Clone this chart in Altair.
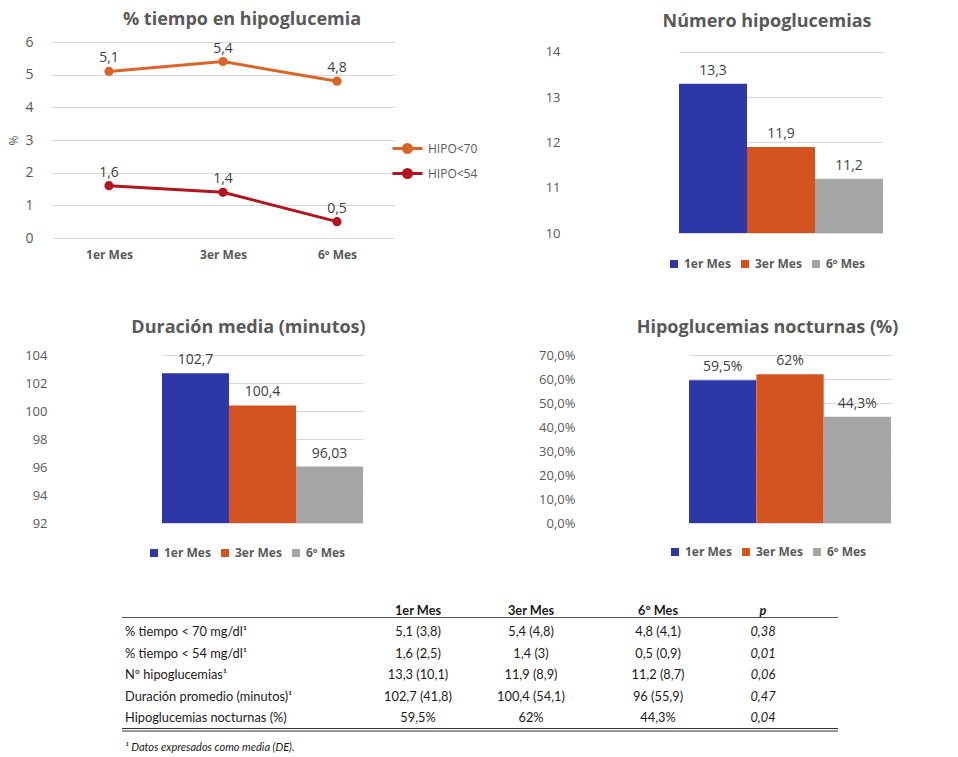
import altair as alt
import pandas as pd

# ---------------- data ----------------
meses = ["1er Mes", "3er Mes", "6º Mes"]
series = ["HIPO<70", "HIPO<54"]
hipo70 = [5.1, 5.4, 4.8]
hipo54 = [1.6, 1.4, 0.5]
num_hipo = [13.3, 11.9, 11.2]
duracion = [102.7, 100.4, 96.03]
nocturnas = [59.5, 62.0, 44.3]

tabla_cab = ["1er Mes", "3er Mes", "6º Mes", "p"]
tabla_filas = ["% tiempo < 70 mg/dl¹", "% tiempo < 54 mg/dl¹", "Nº hipoglucemias¹",
               "Duración promedio (minutos)¹", "Hipoglucemias nocturnas (%)"]
tabla_1er = ["5,1 (3,8)", "1,6 (2,5)", "13,3 (10,1)", "102,7 (41,8)", "59,5%"]
tabla_3er = ["5,4 (4,8)", "1,4 (3)", "11,9 (8,9)", "100,4 (54,1)", "62%"]
tabla_6o = ["4,8 (4,1)", "0,5 (0,9)", "11,2 (8,7)", "96 (55,9)", "44,3%"]
tabla_p = ["0,38", "0,01", "0,06", "0,47", "0,04"]
nota = "¹ Datos expresados como media (DE)."

# ---------------- style ----------------
BLUE, ORANGE, GRAY = "#2E37A8", "#D35420", "#A5A5A5"
C70, C54 = "#D9652B", "#B1161F"
TXT, LBL, GRID = "#595959", "#404040", "#D9D9D9"
FONT, TFONT = "Open Sans", "Lato"
TSIZE = 12.8


def coma(v):
    return f"{v:g}".replace(".", ",")


def titulo(text, dx, offset):
    return alt.TitleParams(text=text, fontSize=18, fontWeight="bold", color=TXT, font=FONT,
                           anchor="middle", frame="group", dx=dx, offset=offset,
                           baseline="alphabetic")


def marco(left, top, right, bottom):
    """Invisible layout frame (sets the extent of a row of the figure)."""
    return alt.Chart(pd.DataFrame({"m": [0]})).mark_rect(opacity=0).encode(
        x=alt.value(left), x2=alt.value(right), y=alt.value(top), y2=alt.value(bottom))


# ---------------- panel 1: lines ----------------
df1 = pd.DataFrame({"mes": meses + meses,
                    "serie": [series[0]] * 3 + [series[1]] * 3,
                    "valor": hipo70 + hipo54})
df1["etiqueta"] = [coma(v) for v in df1["valor"]]

cs1 = alt.Scale(domain=series, range=[C70, C54])
x1 = alt.X("mes:N", sort=meses, scale=alt.Scale(type="point", padding=0.5),
           axis=alt.Axis(title=None, labelAngle=0, labelFontWeight="bold", labelFontSize=12,
                         labelColor=TXT, labelPadding=11, domain=False, ticks=False, grid=False))
y1 = alt.Y("valor:Q", scale=alt.Scale(domain=[0, 6], nice=False),
           axis=alt.Axis(values=[0, 1, 2, 3, 4, 5, 6], title="%", titleFontSize=12,
                         titleFontWeight="normal", titleColor=TXT, titlePadding=4,
                         labelFontSize=14, labelColor=TXT, labelPadding=19,
                         domain=False, ticks=False, grid=True, gridColor=GRID))
SYM = ("M-1.5,0L1.5,0"
       "M-0.4,0A0.4,0.4,0,1,1,0.4,0A0.4,0.4,0,1,1,-0.4,0"
       "M-0.25,0A0.25,0.25,0,1,1,0.25,0A0.25,0.25,0,1,1,-0.25,0"
       "M-0.1,0A0.1,0.1,0,1,1,0.1,0A0.1,0.1,0,1,1,-0.1,0")
leg1 = alt.Legend(title=None, orient="none", legendX=344, legendY=95, symbolType=SYM,
                  symbolSize=400, symbolStrokeWidth=3, symbolFillColor="transparent",
                  labelOffset=9, rowPadding=3, labelFontSize=12, labelColor=TXT)
base1 = alt.Chart(df1).encode(x=x1, y=y1)
line1 = base1.mark_line(strokeWidth=3).encode(
    color=alt.Color("serie:N", sort=series, scale=cs1, legend=leg1))
pts1 = base1.mark_point(filled=True, size=85, opacity=1).encode(
    color=alt.Color("serie:N", sort=series, scale=cs1, legend=None))
txt1 = base1.mark_text(dy=-13, fontSize=14, color=LBL, font=FONT).encode(text="etiqueta:N")
p1 = alt.layer(marco(-52, -42, 0, 248), line1, pts1, txt1).properties(
    width=342, height=196, title=titulo("% tiempo en hipoglucemia", 19, -42.5))


# ---------------- bar panels ----------------
def bar_panel(values, domain, ticks, width, height, band_range, title, leg_x, leg_y,
              label_padding, frame, label_expr=None, suffix=""):
    df = pd.DataFrame({"mes": meses, "valor": values})
    df["etiqueta"] = [coma(v) + suffix for v in values]
    axis_kw = dict(values=ticks, title=None, labelFontSize=13, labelColor=TXT,
                   labelPadding=label_padding, domain=False, ticks=False, grid=True,
                   gridColor=GRID)
    if label_expr:
        axis_kw["labelExpr"] = label_expr
    x = alt.X("mes:N", sort=meses,
              scale=alt.Scale(type="band", paddingInner=0, paddingOuter=0, range=band_range),
              axis=None)
    y = alt.Y("valor:Q", scale=alt.Scale(domain=domain, nice=False, zero=False),
              axis=alt.Axis(**axis_kw))
    leg = alt.Legend(title=None, orient="none", direction="horizontal", columns=3,
                     legendX=leg_x, legendY=leg_y, symbolType="square", symbolSize=64,
                     symbolStrokeWidth=0, labelFontSize=12, labelFontWeight="bold",
                     labelColor=TXT, labelOffset=4, columnPadding=8)
    bars = alt.Chart(df).mark_bar().encode(
        x=x, y=y, y2=alt.datum(domain[0]),
        color=alt.Color("mes:N", sort=meses,
                        scale=alt.Scale(domain=meses, range=[BLUE, ORANGE, GRAY]), legend=leg))
    labels = alt.Chart(df).mark_text(baseline="alphabetic", dy=-9, fontSize=14, color=LBL,
                                     font=FONT).encode(x=x, y=y, text="etiqueta:N")
    return alt.layer(frame, bars, labels).properties(width=width, height=height, title=title)


p2 = bar_panel(num_hipo, [10, 14.22], [10, 11, 12, 13, 14], 380, 191, [102, 306],
               titulo("Número hipoglucemias", 0, -44.5), 91, 216, 17,
               frame=marco(0, -42, 1, 248))
p3 = bar_panel(duracion, [92, 104], [92, 94, 96, 98, 100, 102, 104], 413, 168, [110, 311],
               titulo("Duración media (minutos)", -10, -60.5), 96, 192, 5,
               frame=marco(-52, -65, 0, 220))
p4 = bar_panel(nocturnas, [0, 70], [0, 10, 20, 30, 40, 50, 60, 70], 369, 168, [101, 303],
               titulo("Hipoglucemias nocturnas (%)", -5, -60.5), 81, 191, 13,
               frame=marco(0, -65, 1, 220),
               label_expr="replace(format(datum.value, '.1f'), '.', ',') + '%'",
               suffix="%")

# ---------------- table ----------------
filas_idx = [1, 2, 3, 4, 5]
df_lab = pd.DataFrame({"fila": filas_idx, "col": [0] * 5, "texto": tabla_filas})
df_val = pd.DataFrame({"fila": filas_idx * 3,
                       "col": [1] * 5 + [2] * 5 + [3] * 5,
                       "texto": tabla_1er + tabla_3er + tabla_6o})
df_p = pd.DataFrame({"fila": filas_idx, "col": [4] * 5, "texto": tabla_p})
df_cab = pd.DataFrame({"fila": [0, 0, 0], "col": [1, 2, 3], "texto": tabla_cab[:3]})
df_cabp = pd.DataFrame({"fila": [0], "col": [4], "texto": tabla_cab[3:]})
df_nota = pd.DataFrame({"fila": [5], "col": [0], "texto": [nota]})
df_linea_cab = pd.DataFrame({"fila": [0]})
df_linea_fin = pd.DataFrame({"fila": [5]})

xt = alt.X("col:Q", scale=alt.Scale(domain=[0, 1, 2, 3, 4], range=[3, 296, 409, 536, 641],
                                    nice=False, zero=False), axis=None)
yscale_t = alt.Scale(domain=[0, 1, 2, 3, 4, 5], paddingInner=0, paddingOuter=0)
yt = alt.Y("fila:O", scale=yscale_t, axis=None)
yt_bottom = alt.Y("fila:O", bandPosition=1, scale=yscale_t, axis=None)

t_lab = alt.Chart(df_lab).mark_text(align="left", font=TFONT, fontSize=TSIZE,
                                    color="#1A1A1A").encode(x=xt, y=yt, text="texto:N")
t_val = alt.Chart(df_val).mark_text(align="center", font=TFONT, fontSize=TSIZE,
                                    color="#1A1A1A").encode(x=xt, y=yt, text="texto:N")
t_p = alt.Chart(df_p).mark_text(align="center", font=TFONT, fontSize=TSIZE, fontStyle="italic",
                                color="#1A1A1A").encode(x=xt, y=yt, text="texto:N")
t_cab = alt.Chart(df_cab).mark_text(align="center", font=TFONT, fontSize=TSIZE,
                                    fontWeight="bold", color="#1A1A1A").encode(
    x=xt, y=yt, text="texto:N")
t_cabp = alt.Chart(df_cabp).mark_text(align="center", font=TFONT, fontSize=TSIZE,
                                      fontWeight="bold", fontStyle="italic",
                                      color="#1A1A1A").encode(x=xt, y=yt, text="texto:N")
t_nota = alt.Chart(df_nota).mark_text(align="left", font=TFONT, fontSize=11,
                                      fontStyle="italic", dy=30, color="#1A1A1A").encode(
    x=xt, y=yt, text="texto:N")
r_cab = alt.Chart(df_linea_cab).mark_rule(color="#555555", strokeWidth=1, yOffset=-4).encode(
    y=yt_bottom)
r_fin1 = alt.Chart(df_linea_fin).mark_rule(color="#333333", strokeWidth=1, yOffset=-0.5).encode(
    y=yt_bottom)
r_fin2 = alt.Chart(df_linea_fin).mark_rule(color="#333333", strokeWidth=1, yOffset=2).encode(
    y=yt_bottom)
tabla = alt.layer(r_cab, r_fin1, r_fin2, t_lab, t_val, t_p, t_cab, t_cabp, t_nota).properties(
    width=716, height=129)
hueco = marco(-52, -24.25, 1, 156).properties(width=1, height=1)

fila1 = alt.hconcat(p1, p2, spacing=183, bounds="flush").resolve_scale(color="independent")
fila2 = alt.hconcat(p3, p4, spacing=123, bounds="flush").resolve_scale(color="independent")
fila3 = alt.hconcat(hueco, tabla, spacing=69, bounds="flush")

chart = alt.vconcat(fila1, fila2, fila3, spacing=0).resolve_scale(
    color="independent").properties(
    padding=0, background="white"
).configure_view(stroke=None).configure_axis(labelFont=FONT, titleFont=FONT).configure_legend(
    labelFont=FONT)

chart.save("out.html", embed_options={"renderer": "svg", "actions": False})
